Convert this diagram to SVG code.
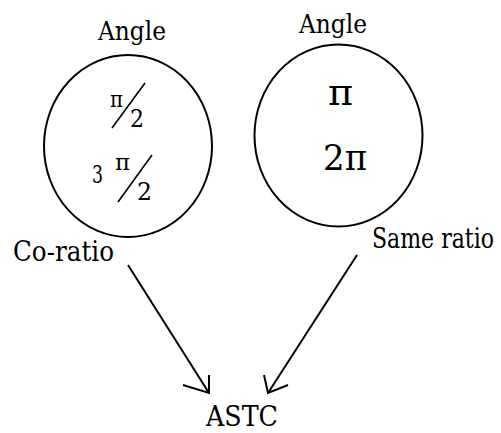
<svg xmlns="http://www.w3.org/2000/svg" width="501" height="433" viewBox="0 0 501 433">
<style>
.t { font-family: "DejaVu Serif", serif; fill: #000; }
.c { fill: #fff; stroke: #000; stroke-width: 2; }
.ln { stroke: #000; stroke-width: 2; fill: none; }
.sl { stroke: #000; stroke-width: 1.6; fill: none; }
</style>
<rect width="501" height="433" fill="#fff"/>
<g id="left-node">
<text class="t" x="98" y="40" font-size="26" textLength="68" lengthAdjust="spacingAndGlyphs">Angle</text>
<ellipse class="c" cx="128" cy="146" rx="84" ry="91"/>
<text class="t" x="110" y="107" font-size="23" textLength="13" lengthAdjust="spacingAndGlyphs">π</text>
<line class="sl" x1="112" y1="128" x2="145" y2="83"/>
<text class="t" x="130" y="127" font-size="24" textLength="14" lengthAdjust="spacingAndGlyphs">2</text>
<text class="t" x="92" y="183" font-size="24" textLength="11" lengthAdjust="spacingAndGlyphs">3</text>
<text class="t" x="115" y="170" font-size="23" textLength="15" lengthAdjust="spacingAndGlyphs">π</text>
<line class="sl" x1="118" y1="202" x2="152" y2="155"/>
<text class="t" x="137" y="200" font-size="24" textLength="15" lengthAdjust="spacingAndGlyphs">2</text>
</g>
<g id="right-node">
<text class="t" x="299" y="33" font-size="26" textLength="68" lengthAdjust="spacingAndGlyphs">Angle</text>
<ellipse class="c" cx="338.5" cy="135.5" rx="84" ry="91"/>
<text class="t" x="328" y="105" font-size="38" textLength="25" lengthAdjust="spacingAndGlyphs">π</text>
<text class="t" x="323" y="170" font-size="35" textLength="44" lengthAdjust="spacingAndGlyphs">2π</text>
</g>
<g id="label-coratio"><text class="t" x="13" y="261" font-size="28" textLength="101" lengthAdjust="spacingAndGlyphs">Co-ratio</text></g>
<g id="label-same"><text class="t" x="372" y="248" font-size="27" textLength="122" lengthAdjust="spacingAndGlyphs">Same ratio</text></g>
<g id="astc"><text class="t" x="206" y="426" font-size="27" textLength="72" lengthAdjust="spacingAndGlyphs">ASTC</text></g>
<g id="connectors">
<line class="ln" x1="128" y1="265" x2="209" y2="393"/>
<polyline class="ln" points="183,385 209,393 209,375"/>
<line class="ln" x1="357" y1="255" x2="268" y2="393"/>
<polyline class="ln" points="264,375 268,393 288,385"/>
</g>
</svg>
